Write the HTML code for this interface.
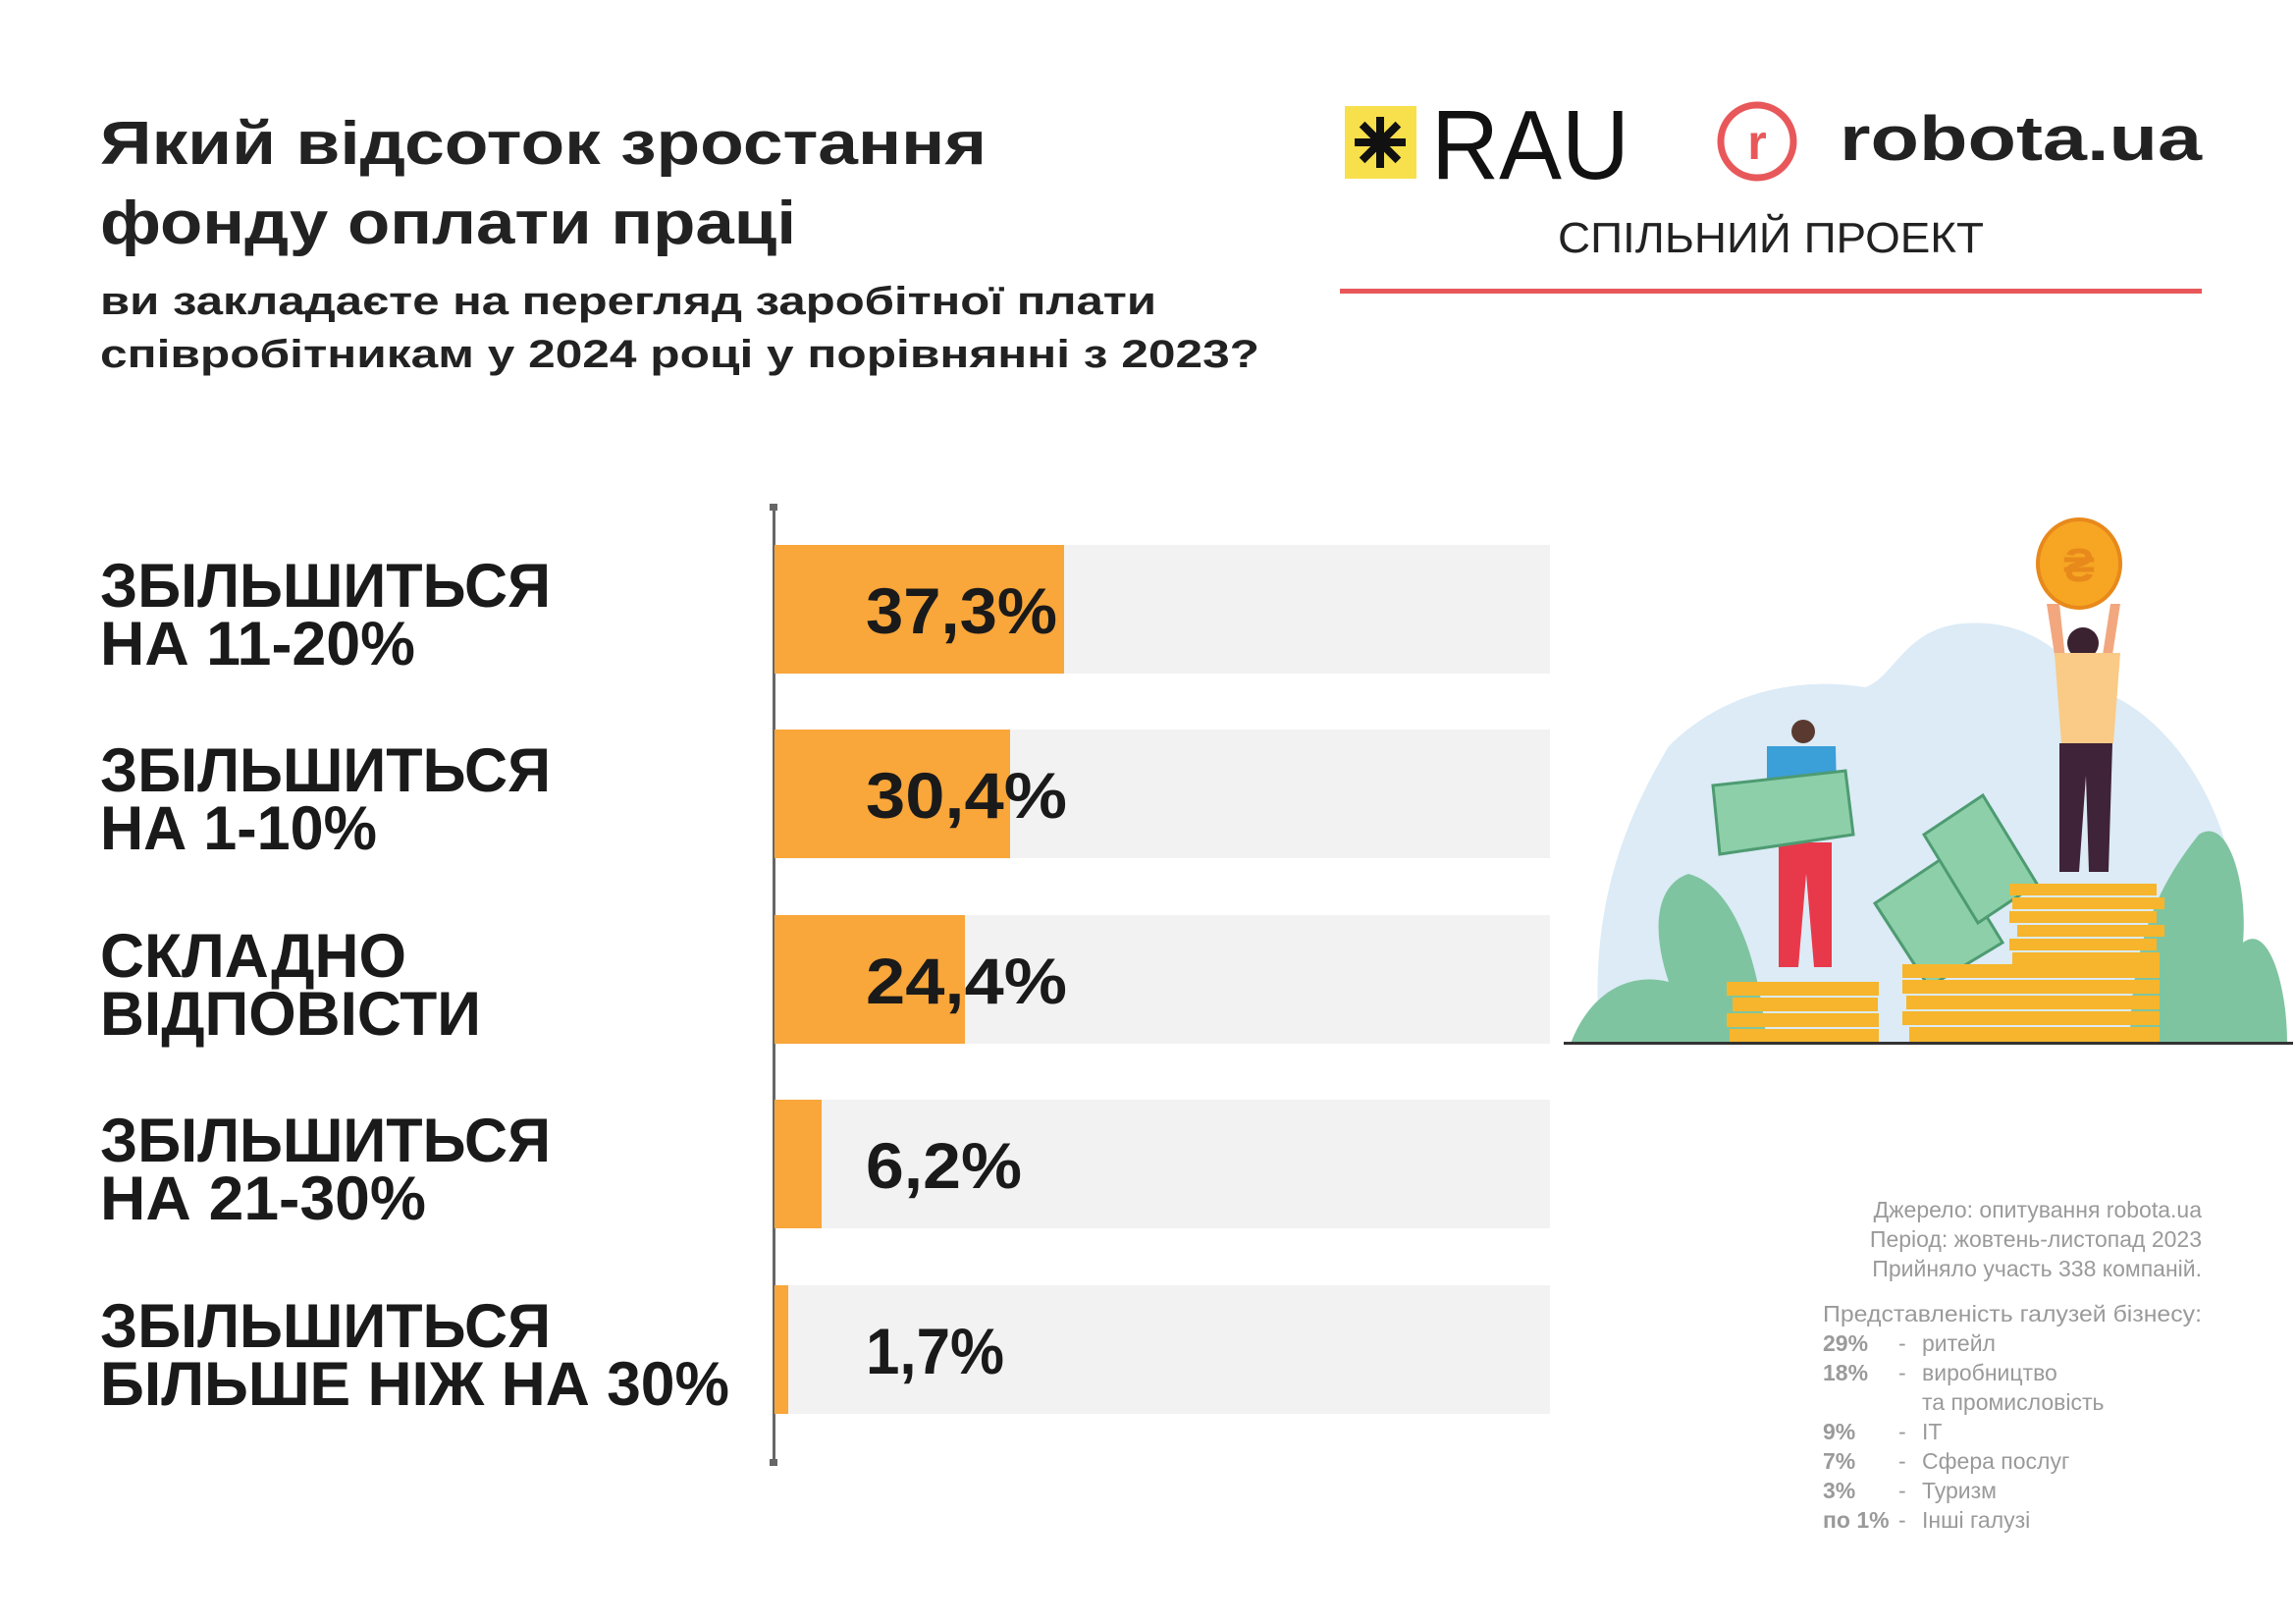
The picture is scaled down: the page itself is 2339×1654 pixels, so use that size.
<!DOCTYPE html>
<html><head><meta charset="utf-8"><style>
html,body{margin:0;padding:0;background:#fff;}
svg{display:block;}
text{font-family:"Liberation Sans",sans-serif;}
</style></head><body>
<svg width="2339" height="1654" viewBox="0 0 2339 1654" xmlns="http://www.w3.org/2000/svg">
<rect width="2339" height="1654" fill="#fff"/>
<!-- Title -->
<g fill="#222" font-weight="bold">
<text x="102" y="167" font-size="62" textLength="903" lengthAdjust="spacingAndGlyphs">Який відсоток зростання</text>
<text x="102" y="248" font-size="62" textLength="709" lengthAdjust="spacingAndGlyphs">фонду оплати праці</text>
<text x="102" y="320" font-size="40" textLength="1076" lengthAdjust="spacingAndGlyphs">ви закладаєте на перегляд заробітної плати</text>
<text x="102" y="374" font-size="40" textLength="1181" lengthAdjust="spacingAndGlyphs">співробітникам у 2024 році у порівнянні з 2023?</text>
</g>
<!-- Logos -->
<rect x="1370" y="108" width="73" height="74" fill="#F7E04B"/>
<g transform="translate(1406,145)" fill="#111">
<rect x="-4" y="-26" width="8" height="52"/>
<rect x="-26" y="-4" width="52" height="8"/>
<rect x="-4" y="-26" width="8" height="52" transform="rotate(45)"/>
<rect x="-4" y="-26" width="8" height="52" transform="rotate(-45)"/>
<rect x="-9" y="-9" width="18" height="18" transform="rotate(45)"/>
</g>
<text x="1458" y="182" font-size="100" fill="#111" textLength="202" lengthAdjust="spacingAndGlyphs">RAU</text>
<circle cx="1790" cy="144" r="37" fill="none" stroke="#E8585A" stroke-width="7"/>
<text x="1790" y="162" font-size="50" font-weight="bold" fill="#E8585A" text-anchor="middle">r</text>
<text x="1874" y="163" font-size="64" font-weight="bold" fill="#222" textLength="369" lengthAdjust="spacingAndGlyphs">robota.ua</text>
<text x="1587" y="257" font-size="44" fill="#222" textLength="434" lengthAdjust="spacingAndGlyphs">СПІЛЬНИЙ ПРОЕКТ</text>
<rect x="1365" y="294" width="878" height="5" fill="#E8585A"/>
<!-- Axis -->
<rect x="787" y="516" width="3" height="974" fill="#666"/>
<rect x="784" y="513" width="8" height="7" fill="#666"/>
<rect x="784" y="1486" width="8" height="7" fill="#666"/>
<!-- Bars -->
<g>
<rect x="789" y="555" width="790" height="131" fill="#F2F2F2"/>
<rect x="789" y="555" width="295" height="131" fill="#F9A63A"/>
<rect x="789" y="743" width="790" height="131" fill="#F2F2F2"/>
<rect x="789" y="743" width="240" height="131" fill="#F9A63A"/>
<rect x="789" y="932" width="790" height="131" fill="#F2F2F2"/>
<rect x="789" y="932" width="194" height="131" fill="#F9A63A"/>
<rect x="789" y="1120" width="790" height="131" fill="#F2F2F2"/>
<rect x="789" y="1120" width="48" height="131" fill="#F9A63A"/>
<rect x="789" y="1309" width="790" height="131" fill="#F2F2F2"/>
<rect x="789" y="1309" width="14" height="131" fill="#F9A63A"/>
</g>
<g fill="#1a1a1a" font-weight="bold" font-size="66">
<text x="882" y="645" textLength="195" lengthAdjust="spacingAndGlyphs">37,3%</text>
<text x="882" y="833" textLength="205" lengthAdjust="spacingAndGlyphs">30,4%</text>
<text x="882" y="1022" textLength="205" lengthAdjust="spacingAndGlyphs">24,4%</text>
<text x="882" y="1210" textLength="159" lengthAdjust="spacingAndGlyphs">6,2%</text>
<text x="882" y="1399" textLength="141" lengthAdjust="spacingAndGlyphs">1,7%</text>
</g>
<g fill="#1a1a1a" font-weight="bold" font-size="63">
<text x="102" y="618" textLength="459" lengthAdjust="spacingAndGlyphs">ЗБІЛЬШИТЬСЯ</text>
<text x="102" y="677" textLength="321" lengthAdjust="spacingAndGlyphs">НА 11-20%</text>
<text x="102" y="806" textLength="459" lengthAdjust="spacingAndGlyphs">ЗБІЛЬШИТЬСЯ</text>
<text x="102" y="865" textLength="282" lengthAdjust="spacingAndGlyphs">НА 1-10%</text>
<text x="102" y="995" textLength="312" lengthAdjust="spacingAndGlyphs">СКЛАДНО</text>
<text x="102" y="1054" textLength="388" lengthAdjust="spacingAndGlyphs">ВІДПОВІСТИ</text>
<text x="102" y="1183" textLength="459" lengthAdjust="spacingAndGlyphs">ЗБІЛЬШИТЬСЯ</text>
<text x="102" y="1242" textLength="332" lengthAdjust="spacingAndGlyphs">НА 21-30%</text>
<text x="102" y="1372" textLength="459" lengthAdjust="spacingAndGlyphs">ЗБІЛЬШИТЬСЯ</text>
<text x="102" y="1431" textLength="641" lengthAdjust="spacingAndGlyphs">БІЛЬШЕ НІЖ НА 30%</text>
</g>
<!-- Source -->
<g fill="#9a9a9a" font-size="23">
<text x="2243" y="1240" text-anchor="end">Джерело: опитування robota.ua</text>
<text x="2243" y="1270" text-anchor="end">Період: жовтень-листопад  2023</text>
<text x="2243" y="1300" text-anchor="end">Прийняло участь 338 компаній.</text>
<text x="1857" y="1346" textLength="386" lengthAdjust="spacingAndGlyphs">Представленість галузей бізнесу:</text>
<g font-weight="bold"><text x="1857" y="1376">29%</text><text x="1857" y="1406">18%</text><text x="1857" y="1466">9%</text><text x="1857" y="1496">7%</text><text x="1857" y="1526">3%</text><text x="1857" y="1556">по 1%</text></g>
<text x="1934" y="1376">-</text><text x="1958" y="1376">ритейл</text>
<text x="1934" y="1406">-</text><text x="1958" y="1406">виробництво</text>
<text x="1958" y="1436">та промисловість</text>
<text x="1934" y="1466">-</text><text x="1958" y="1466">IT</text>
<text x="1934" y="1496">-</text><text x="1958" y="1496">Сфера послуг</text>
<text x="1934" y="1526">-</text><text x="1958" y="1526">Туризм</text>
<text x="1934" y="1556">-</text><text x="1958" y="1556">Інші галузі</text>
</g>
<!-- Illustration -->
<path d="M1630 1063 C1620 950 1640 860 1700 760 C1760 700 1840 690 1900 700 C1930 690 1940 640 2000 635 C2060 630 2100 660 2130 700 C2200 720 2260 800 2277 900 L2277 1063 Z" fill="#DCEBF6"/>
<path d="M1600 1063 C1620 1010 1660 990 1700 1000 C1680 940 1690 900 1720 890 C1760 900 1790 960 1800 1063 Z" fill="#7FC4A0"/>
<path d="M2170 1063 C2170 960 2200 900 2240 850 C2270 830 2290 900 2285 960 C2310 940 2330 1000 2330 1063 Z" fill="#7FC4A0"/>
<ellipse cx="2118" cy="574" rx="42" ry="45" fill="#F6A623" stroke="#E8891B" stroke-width="4"/>
<text x="2118" y="592" font-size="48" font-weight="bold" fill="#E8891B" text-anchor="middle">₴</text>
<!-- woman -->
<path d="M2085 615 L2095 680 L2105 680 L2098 615Z M2150 615 L2140 680 L2150 680 L2160 615Z" fill="#F2A77F"/>
<circle cx="2122" cy="655" r="16" fill="#3a2230"/>
<path d="M2093 665 L2160 665 L2153 757 L2100 757 Z" fill="#F9CB86"/>
<path d="M2098 757 L2152 757 L2148 888 L2128 888 L2125 790 L2118 888 L2098 888 Z" fill="#3F2338"/>
<!-- man -->
<circle cx="1837" cy="745" r="12" fill="#5a3a30"/>
<path d="M1800 760 L1870 760 L1872 850 L1800 850 Z" fill="#3B9FD8"/>
<path d="M1812 858 L1866 858 L1866 985 L1848 985 L1840 890 L1832 985 L1812 985 Z" fill="#E8394B"/>
<path d="M1745 800 L1880 785 L1888 850 L1752 870 Z" fill="#8CCFA8" stroke="#4E9B72" stroke-width="3"/>
<!-- money -->
<path d="M1910 920 L1985 870 L2040 960 L1965 1005 Z" fill="#8CCFA8" stroke="#4E9B72" stroke-width="3"/>
<path d="M1960 850 L2020 810 L2075 900 L2015 940 Z" fill="#8CCFA8" stroke="#4E9B72" stroke-width="3"/>
<!-- coins -->
<g fill="#F6B52C">
<rect x="1759" y="1000" width="155" height="14"/><rect x="1765" y="1016" width="148" height="14"/><rect x="1759" y="1032" width="155" height="14"/><rect x="1762" y="1048" width="152" height="15"/>
<rect x="1938" y="982" width="262" height="14"/><rect x="1938" y="998" width="262" height="14"/><rect x="1942" y="1014" width="258" height="14"/><rect x="1938" y="1030" width="262" height="14"/><rect x="1945" y="1046" width="255" height="17"/>
<rect x="2047" y="900" width="150" height="12"/><rect x="2050" y="914" width="155" height="12"/><rect x="2047" y="928" width="150" height="12"/><rect x="2055" y="942" width="150" height="12"/><rect x="2047" y="956" width="150" height="12"/><rect x="2050" y="970" width="150" height="12"/>
</g>
<rect x="1593" y="1061" width="743" height="3" fill="#333"/>
</svg>
</body></html>
